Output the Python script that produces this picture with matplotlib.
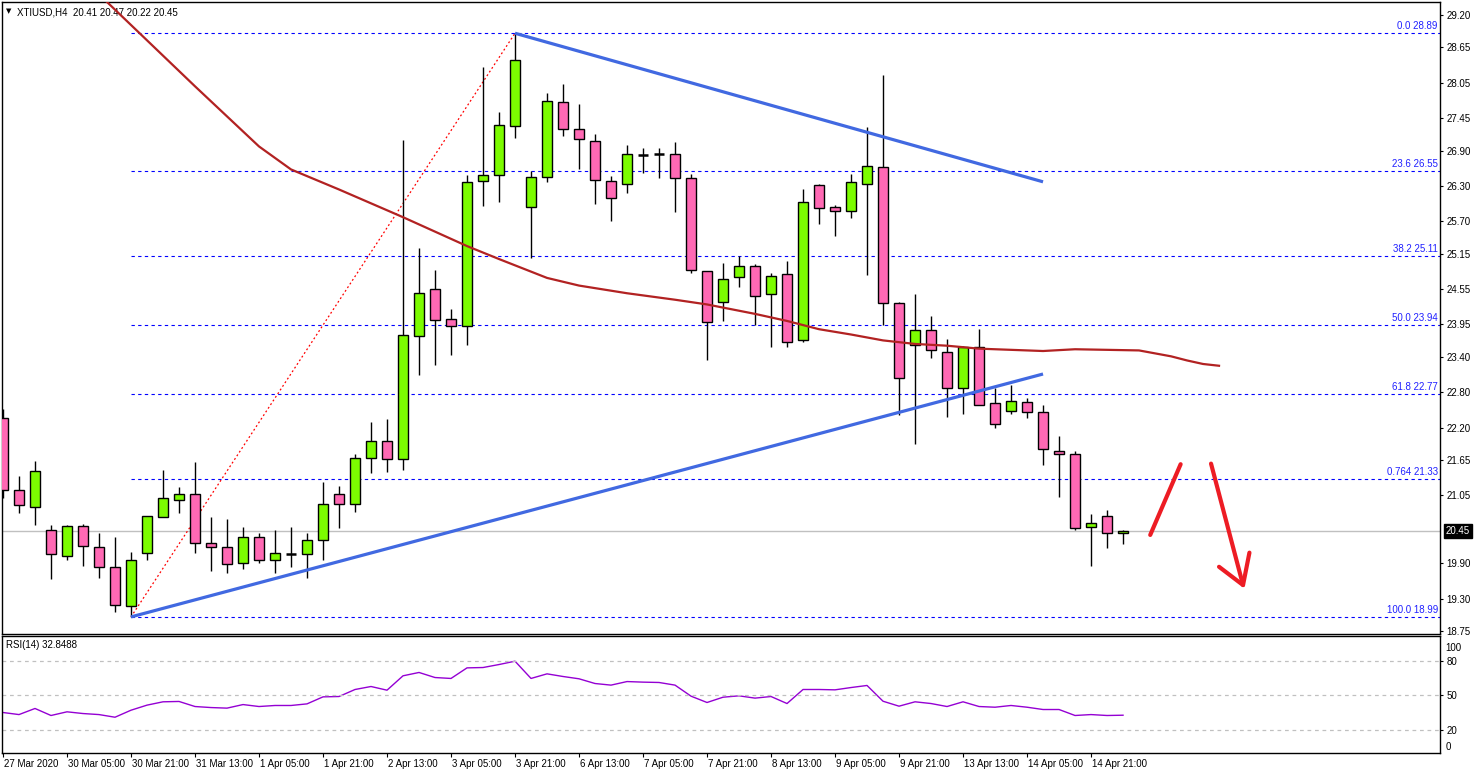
import numpy as np
import matplotlib
matplotlib.use("Agg")
import matplotlib.pyplot as plt
import matplotlib.transforms as mtransforms

plt.rcParams['font.family'] = ['Liberation Sans', 'DejaVu Sans']

# ---- data (H4 bars, XTIUSD) ----
opens = [22.37, 21.15, 20.86, 20.47, 20.03, 20.54, 20.18, 19.84, 19.18, 20.07,
         20.69, 20.98, 21.07, 20.24, 20.18, 19.91, 20.35, 19.95, 20.05, 20.05,
         20.30, 21.08, 20.91, 21.68, 21.98, 21.66, 23.76, 24.56, 24.04, 23.92,
         26.38, 26.48, 27.31, 25.94, 26.45, 27.72, 27.26, 27.07, 26.38, 26.33,
         26.82, 26.84, 26.84, 26.43, 24.85, 24.33, 24.75, 24.95, 24.46, 24.80,
         23.68, 26.31, 25.94, 25.87, 26.34, 26.62, 24.32, 23.61, 23.85, 23.49,
         22.88, 23.56, 22.61, 22.49, 22.63, 22.46, 21.81, 21.75, 20.52, 20.71,
         20.41]
highs = [22.51, 21.38, 21.63, 20.55, 20.55, 20.57, 20.41, 20.34, 20.09, 20.71,
         21.48, 21.19, 21.61, 20.68, 20.65, 20.52, 20.41, 20.46, 20.52, 20.42,
         21.28, 21.21, 21.76, 22.29, 22.34, 27.08, 25.24, 24.87, 24.21, 26.49,
         28.32, 27.55, 28.89, 26.55, 27.88, 28.03, 27.69, 27.18, 26.47, 26.99,
         26.94, 26.94, 27.05, 26.51, 24.85, 24.99, 25.11, 24.97, 24.82, 25.03,
         26.24, 26.34, 25.97, 26.51, 27.30, 28.18, 24.33, 24.47, 24.09, 23.70,
         23.58, 23.87, 22.87, 22.92, 22.70, 22.58, 22.06, 21.81, 20.73, 20.80,
         20.47]
lows = [21.00, 20.75, 20.55, 19.63, 19.95, 19.86, 19.65, 19.07, 18.99, 19.96,
        20.68, 20.75, 20.08, 19.77, 19.74, 19.80, 19.91, 19.74, 19.84, 19.65,
        19.96, 20.50, 20.77, 21.43, 21.45, 21.48, 23.10, 23.27, 23.44, 23.61,
        25.96, 26.03, 27.12, 25.07, 26.37, 27.15, 26.58, 26.00, 25.71, 26.18,
        26.52, 26.44, 25.86, 24.83, 23.35, 24.01, 24.59, 23.94, 23.57, 23.57,
        23.66, 25.66, 25.45, 25.76, 24.79, 23.94, 22.41, 21.93, 23.38, 22.38,
        22.43, 22.58, 22.20, 22.43, 22.37, 21.57, 21.03, 20.47, 19.86, 20.16,
        20.22]
closes = [21.15, 20.88, 21.47, 20.05, 20.54, 20.19, 19.84, 19.20, 19.95, 20.71,
          21.00, 21.08, 20.24, 20.17, 19.88, 20.35, 19.96, 20.07, 20.05, 20.29,
          20.90, 20.90, 21.69, 21.97, 21.66, 23.78, 24.49, 24.02, 23.92, 26.37,
          26.48, 27.33, 28.43, 26.46, 27.74, 27.26, 27.09, 26.40, 26.09, 26.84,
          26.82, 26.84, 26.43, 24.87, 24.00, 24.73, 24.94, 24.44, 24.78, 23.66,
          26.02, 25.92, 25.87, 26.36, 26.63, 24.31, 23.05, 23.85, 23.51, 22.88,
          23.56, 22.59, 22.27, 22.65, 22.46, 21.83, 21.76, 20.50, 20.59, 20.42,
          20.45]

rsi = [35.2, 33.4, 38.7, 32.6, 35.8, 34.3, 33.4, 31.1, 37.2, 41.6,
       44.5, 44.8, 40.4, 39.5, 39.0, 42.1, 40.4, 41.3, 41.3, 42.7,
       48.8, 49.1, 55.2, 57.8, 54.6, 67.1, 70.0, 65.6, 64.8, 74.0,
       74.3, 76.9, 79.8, 64.8, 68.8, 66.5, 64.5, 60.4, 59.0, 62.1,
       61.6, 61.3, 59.0, 49.4, 43.9, 48.5, 49.7, 47.7, 49.1, 43.0,
       55.2, 55.2, 54.9, 56.9, 58.7, 45.0, 40.7, 44.5, 43.0, 40.4,
       44.5, 40.4, 39.8, 41.3, 39.8, 37.8, 37.8, 32.6, 33.4, 32.6,
       32.8488]

# moving average (shifted, so it runs past the last bar)
ma_bar = [0, 6, 12, 16, 18, 21, 25, 29, 31, 34, 36, 39, 42, 44, 47, 49, 51,
          53, 55, 57, 59, 61, 63, 65, 67, 69, 71, 72, 73, 74, 75, 76]
ma_val = [31.03, 29.55, 27.99, 26.97, 26.58, 26.24, 25.77, 25.28, 25.06, 24.74,
          24.61, 24.48, 24.37, 24.29, 24.13, 24.01, 23.87, 23.78, 23.68, 23.62,
          23.59, 23.54, 23.52, 23.50, 23.53, 23.52, 23.51, 23.46, 23.41, 23.34,
          23.28, 23.25]

# trend lines: (bar, price)
upper_line = [(32, 28.89), (65, 26.37)]
lower_line = [(8, 18.99), (65, 23.11)]

# fibonacci from the 30 Mar low to the 3 Apr high
fib_start = (8, 18.99)
fib_end = (32, 28.89)
fib_names = ["0.0", "23.6", "38.2", "50.0", "61.8", "0.764", "100.0"]
fib_levels = [28.89, 26.55, 25.11, 23.94, 22.77, 21.33, 18.99]

# hand-drawn arrows: (bar, price)
arrow_up = [(71.7, 20.38), (73.6, 21.58)]
arrow_down = [(75.5, 21.59), (77.5, 19.53)]
arrow_head = [(76.0, 19.84), (77.5, 19.53), (77.9, 20.08)]

price_ticks = [29.20, 28.65, 28.05, 27.45, 26.90, 26.30, 25.70, 25.15, 24.55,
               23.95, 23.40, 22.80, 22.20, 21.65, 21.05, 19.90, 19.30, 18.75]
last_price = 20.45

date_bars = list(range(0, 69, 4))
date_labels = ["27 Mar 2020", "30 Mar 05:00", "30 Mar 21:00", "31 Mar 13:00",
               "1 Apr 05:00", "1 Apr 21:00", "2 Apr 13:00", "3 Apr 05:00",
               "3 Apr 21:00", "6 Apr 13:00", "7 Apr 05:00", "7 Apr 21:00",
               "8 Apr 13:00", "9 Apr 05:00", "9 Apr 21:00", "13 Apr 13:00",
               "14 Apr 05:00", "14 Apr 21:00"]

# ---- layout in pixels ----
W, H = 1480, 774
fig = plt.figure(figsize=(W / 100, H / 100), dpi=100)


def px_rect(l, t, r, b):
    return [l / W, 1 - b / H, (r - l) / W, (b - t) / H]


ax = fig.add_axes(px_rect(2, 2, 1440, 634))
axr = fig.add_axes(px_rect(2, 636, 1440, 753), sharex=ax)

x = np.arange(len(opens))
o = np.array(opens)
c = np.array(closes)
up = c > o
down = c < o
flat = c == o

green = "#7CFC00"
pink = "#FF69B4"

ax.vlines(x, lows, highs, color="black", lw=1.0, zorder=3)
ax.bar(x[up], (c - o)[up], bottom=o[up], width=0.62, color=green,
       edgecolor="black", linewidth=1.0, zorder=4)
ax.bar(x[down], (o - c)[down], bottom=c[down], width=0.62, color=pink,
       edgecolor="black", linewidth=1.0, zorder=4)
ax.hlines(o[flat], x[flat] - 0.31, x[flat] + 0.31, color="black", lw=1.8, zorder=4)

# MA
ax.plot(ma_bar, ma_val, color="#B22222", lw=1.6, zorder=5)

# trend lines
for line in (upper_line, lower_line):
    ax.plot([p[0] for p in line], [p[1] for p in line], color="#4169E1",
            lw=2.3, solid_capstyle="butt", zorder=6)

# fib
ax.plot([fib_start[0], fib_end[0]], [fib_start[1], fib_end[1]], color="red",
        lw=0.9, ls=(0, (1.5, 2)), zorder=2)
blend = mtransforms.blended_transform_factory(ax.transAxes, ax.transData)
for name, lvl in zip(fib_names, fib_levels):
    ax.hlines(lvl, fib_start[0], 100, color="#0000FF", lw=0.8,
              linestyles=(0, (3, 3)), zorder=2)
    ax.text(0.9985, lvl + 0.04, f"{name} {lvl:.2f}", transform=blend,
            ha="right", va="bottom", fontsize=7, color="#2020FF")

# last price line
ax.axhline(last_price, color="#C0C0C0", lw=1.0, zorder=1)

# red arrows
for seg in (arrow_up, arrow_down, arrow_head):
    ax.plot([p[0] for p in seg], [p[1] for p in seg], color="#ED1C24", lw=3.0,
            solid_capstyle="round", solid_joinstyle="round", zorder=7)

ax.set_xlim(-0.0625, 89.81)
ax.set_ylim(18.70, 29.42)

ax.yaxis.tick_right()
ax.set_yticks(price_ticks)
ax.set_yticklabels([f"{v:.2f}" for v in price_ticks])
ax.tick_params(axis="y", direction="out", length=2.5, pad=2, labelsize=7,
               width=0.8)
ax.tick_params(axis="x", bottom=False, labelbottom=False)
ax.text(1.004, last_price, f"{last_price:.2f}", transform=blend, ha="left",
        va="center", fontsize=7, color="white",
        bbox=dict(boxstyle="square,pad=0.2", fc="black", ec="black"))

ax.text(0.0105, 0.984, "XTIUSD,H4  20.41 20.47 20.22 20.45", fontsize=7,
        transform=ax.transAxes, va="center", ha="left")
ax.text(0.003, 0.985, "\u25BC", transform=ax.transAxes, fontsize=5,
        ha="left", va="center", family="DejaVu Sans")

# RSI panel
axr.plot(x, rsi, color="#9400D3", lw=1.0)
for lvl in (80, 50, 20):
    axr.axhline(lvl, color="#C0C0C0", lw=0.9, ls=(0, (3, 3)))
axr.set_ylim(0, 101.7)
axr.yaxis.tick_right()
axr.set_yticks([20, 50, 80])
axr.tick_params(axis="y", direction="out", length=2.5, pad=2, labelsize=7,
                width=0.8)
rblend = mtransforms.blended_transform_factory(axr.transAxes, axr.transData)
axr.text(1.004, 96, "100", transform=rblend, ha="left", va="top", fontsize=7)
axr.text(1.004, 1, "0", transform=rblend, ha="left", va="bottom", fontsize=7)
axr.text(0.003, 0.923, "RSI(14) 32.8488", transform=axr.transAxes, fontsize=7,
         ha="left", va="center")

axr.set_xticks(date_bars)
axr.set_xticklabels(date_labels)
axr.tick_params(axis="x", direction="out", length=3, pad=1.5, labelsize=7,
                width=0.8)
shift = mtransforms.ScaledTranslation(1 / 72, 0, fig.dpi_scale_trans)
for lab in axr.get_xticklabels():
    lab.set_horizontalalignment("left")
    lab.set_transform(lab.get_transform() + shift)

for a in (ax, axr):
    for sp in a.spines.values():
        sp.set_linewidth(1.0)
        sp.set_color("black")

fig.savefig("out.png", dpi=100)
